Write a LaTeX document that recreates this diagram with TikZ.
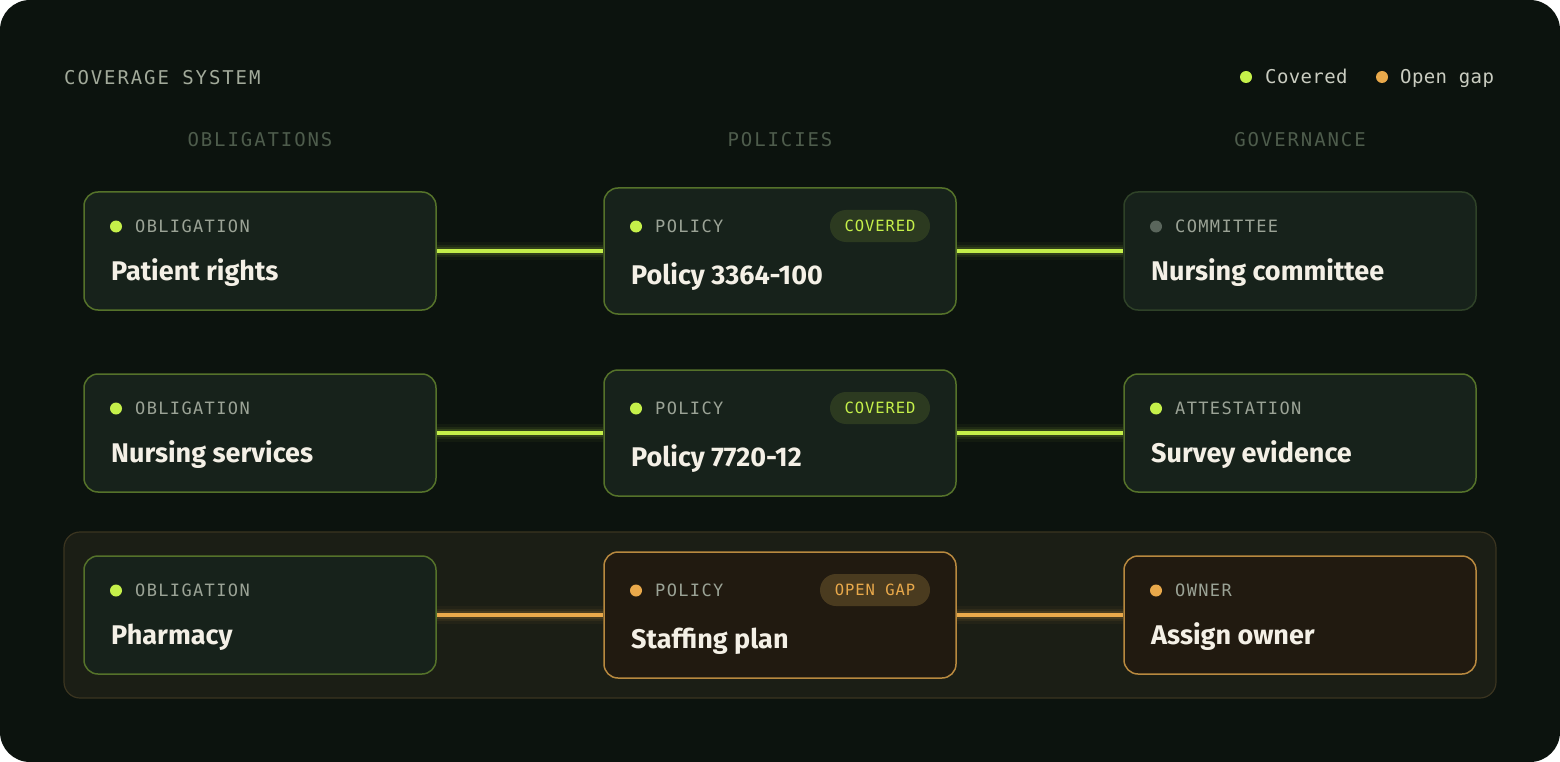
\documentclass[tikz,border=0pt]{standalone}
\usepackage{fontspec}
\setmainfont{Fira Sans}
\newfontfamily\trackmono{DejaVu Sans Mono}[LetterSpace=10]
\newfontfamily\labmono{DejaVu Sans Mono}[LetterSpace=8]
\newfontfamily\badgemono{DejaVu Sans Mono}[LetterSpace=6]
\newfontfamily\plainmono{DejaVu Sans Mono}[LetterSpace=2]
\newfontfamily\cardfont{Fira Sans}
\usetikzlibrary{calc}
\definecolor{pagebg}{HTML}{0C130E}
\definecolor{cardfill}{HTML}{17221B}
\definecolor{cardline}{HTML}{55722A}
\definecolor{dimline}{HTML}{2F4228}
\definecolor{gapfill}{HTML}{211A10}
\definecolor{gapline}{HTML}{B8893F}
\definecolor{bandfill}{HTML}{1B1E15}
\definecolor{bandline}{HTML}{3B3520}
\definecolor{lime}{HTML}{C5F04A}
\definecolor{amber}{HTML}{E9A94B}
\definecolor{graydot}{HTML}{5A665C}
\definecolor{labeltext}{HTML}{9BA396}
\definecolor{titletext}{HTML}{F4F0E6}
\definecolor{headtext}{HTML}{4E5C4C}
\definecolor{toptext}{HTML}{A2AA9A}
\definecolor{legtext}{HTML}{C9CCC0}
\definecolor{okbadge}{HTML}{2C3A20}
\definecolor{gapbadge}{HTML}{4A3B1F}
\pgfdeclarelayer{back}
\pgfdeclarelayer{wires}
\pgfsetlayers{back,wires,main}
\newcommand\glowline[3]{%
  \draw[#1, line width=18pt, opacity=0.04] (#2) -- (#3);
  \draw[#1, line width=12pt, opacity=0.07] (#2) -- (#3);
  \draw[#1, line width=8pt, opacity=0.12] (#2) -- (#3);
  \draw[#1, line width=3.6pt] (#2) -- (#3);
}
\begin{document}
\begin{tikzpicture}[x=1pt,y=-1pt,
  card/.style={draw, rounded corners=14pt, line width=1.5pt, minimum width=352pt, inner sep=0pt, fill=cardfill, draw=cardline},
  sidecard/.style={card, minimum height=118pt},
  polcard/.style={card, minimum height=126pt},
  gapcard/.style={fill=gapfill, draw=gapline},
  dimcard/.style={draw=dimline},
  dotn/.style={circle, fill=#1, minimum size=12pt, inner sep=0pt},
  lbl/.style={anchor=base west, inner sep=0pt, text=labeltext, font=\labmono\fontsize{17}{17}\selectfont},
  ttl/.style={anchor=base west, inner sep=0pt, text=titletext, font=\cardfont\bfseries\fontsize{27}{27}\selectfont},
  badge/.style={rounded corners=16pt, minimum width=100pt, minimum height=32pt, inner sep=0pt, font=\badgemono\fontsize{15.5}{15.5}\selectfont},
  head/.style={anchor=base, inner sep=0pt, text=headtext, font=\trackmono\fontsize{19}{19}\selectfont},
  legend/.style={anchor=base west, inner sep=0pt, text=legtext, font=\plainmono\fontsize{19}{19}\selectfont},
]
\useasboundingbox (0,0) rectangle (1560,762);
\begin{pgfonlayer}{back}
  \fill[white] (0,0) rectangle (1560,762);
  \fill[pagebg, rounded corners=30pt] (0,0) rectangle (1560,762);
  \node[draw=bandline, fill=bandfill, line width=1.2pt, rounded corners=16pt, minimum width=1432pt, minimum height=166pt, inner sep=0pt] (gapband) at (780,615) {};
\end{pgfonlayer}

% header
\node[anchor=base west, inner sep=0pt, text=toptext, font=\trackmono\fontsize{19}{19}\selectfont] (systitle) at (64,84.5) {COVERAGE SYSTEM};
\node[dotn=lime] (legokdot) at (1246,77) {};
\node[legend] (legok) at (1265,84) {Covered};
\node[dotn=amber] (leggapdot) at (1382,77) {};
\node[legend] (leggap) at (1400,84) {Open gap};

\node[head] (hobl) at (260,146.5) {OBLIGATIONS};
\node[head] (hpol) at (780,146.5) {POLICIES};
\node[head] (hgov) at (1300,146.5) {GOVERNANCE};

% row 1
\node[sidecard] (ob1) at (260,251) {};
\node[polcard] (po1) at (780,251) {};
\node[sidecard, dimcard] (gv1) at (1300,251) {};
% row 2
\node[sidecard] (ob2) at (260,433) {};
\node[polcard] (po2) at (780,433) {};
\node[sidecard] (gv2) at (1300,433) {};
% row 3
\node[sidecard] (ob3) at (260,615) {};
\node[polcard, gapcard] (po3) at (780,615) {};
\node[sidecard, gapcard] (gv3) at (1300,615) {};

% contents row 1
\node[dotn=lime] (ob1d) at (116,226.5) {};
\node[lbl] (ob1l) at (135,232.5) {OBLIGATION};
\node[ttl] (ob1t) at (111,280) {Patient rights};
\node[dotn=lime] (po1d) at (636,226.5) {};
\node[lbl] (po1l) at (655,232.5) {POLICY};
\node[badge, fill=okbadge, text=lime] (po1b) at (880,226) {COVERED};
\node[ttl] (po1t) at (631,284) {Policy 3364-100};
\node[dotn=graydot] (gv1d) at (1156,226.5) {};
\node[lbl] (gv1l) at (1175,232.5) {COMMITTEE};
\node[ttl] (gv1t) at (1151,280) {Nursing committee};

% contents row 2
\node[dotn=lime] (ob2d) at (116,408.5) {};
\node[lbl] (ob2l) at (135,414.5) {OBLIGATION};
\node[ttl] (ob2t) at (111,462) {Nursing services};
\node[dotn=lime] (po2d) at (636,408.5) {};
\node[lbl] (po2l) at (655,414.5) {POLICY};
\node[badge, fill=okbadge, text=lime] (po2b) at (880,408) {COVERED};
\node[ttl] (po2t) at (631,466) {Policy 7720-12};
\node[dotn=lime] (gv2d) at (1156,408.5) {};
\node[lbl] (gv2l) at (1175,414.5) {ATTESTATION};
\node[ttl] (gv2t) at (1151,462) {Survey evidence};

% contents row 3
\node[dotn=lime] (ob3d) at (116,590.5) {};
\node[lbl] (ob3l) at (135,596.5) {OBLIGATION};
\node[ttl] (ob3t) at (111,644) {Pharmacy};
\node[dotn=amber] (po3d) at (636,590.5) {};
\node[lbl] (po3l) at (655,596.5) {POLICY};
\node[badge, fill=gapbadge, text=amber, minimum width=110pt] (po3b) at (875,590) {OPEN GAP};
\node[ttl] (po3t) at (631,648) {Staffing plan};
\node[dotn=amber] (gv3d) at (1156,590.5) {};
\node[lbl] (gv3l) at (1175,596.5) {OWNER};
\node[ttl] (gv3t) at (1151,644) {Assign owner};

% connectors
\begin{pgfonlayer}{wires}
  \glowline{lime}{ob1.east}{po1.west}
  \glowline{lime}{po1.east}{gv1.west}
  \glowline{lime}{ob2.east}{po2.west}
  \glowline{lime}{po2.east}{gv2.west}
  \glowline{amber}{ob3.east}{po3.west}
  \glowline{amber}{po3.east}{gv3.west}
\end{pgfonlayer}
\end{tikzpicture}
\end{document}
